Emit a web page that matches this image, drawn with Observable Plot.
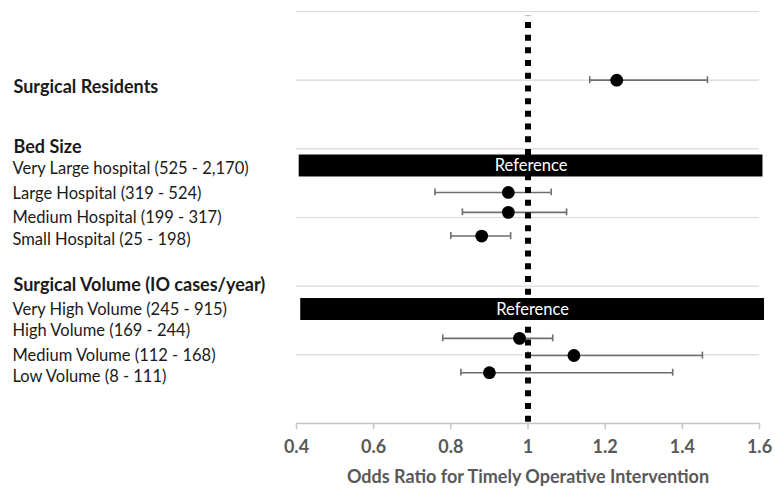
<!DOCTYPE html>
<html>
<head>
<meta charset="utf-8">
<script src="https://cdn.jsdelivr.net/npm/d3@7"></script>
<script src="https://cdn.jsdelivr.net/npm/@observablehq/plot@0.6"></script>
<style>
  html, body { margin: 0; padding: 0; background: #fff; }
  #chart { width: 775px; height: 493px; }
  svg { font-family: Lato, "Open Sans", sans-serif; }
</style>
</head>
<body>
<div id="chart"></div>
<script>
// Estimates (odds ratio, 95% CI)
const estNames = ["Surgical Residents", "Large Hospital (319 - 524)", "Medium Hospital (199 - 317)", "Small Hospital (25 - 198)",
                  "High Volume (169 - 244)", "Medium Volume (112 - 168)", "Low Volume (8 - 111)"];
const estRow   = [5.0, 3.365, 3.075, 2.73, 1.24, 0.99, 0.74];
const estOR    = [1.23, 0.949, 0.949, 0.880, 0.978, 1.119, 0.900];
const estLow   = [1.160, 0.759, 0.830, 0.800, 0.779, 1.000, 0.826];
const estHigh  = [1.465, 1.060, 1.100, 0.955, 1.064, 1.452, 1.375];

// Reference categories (drawn as black bars)
const refRow  = [3.75, 1.66];
const refFrom = [0.407, 0.411];
const refTo   = [1.609, 1.613];

// Left-hand labels
const labelText = ["Surgical Residents", "Bed Size", "Very Large hospital (525 - 2,170)", "Large Hospital (319 - 524)",
                   "Medium Hospital (199 - 317)", "Small Hospital (25 - 198)", "Surgical Volume (IO cases/year)",
                   "Very High Volume (245 - 915)", "High Volume (169 - 244)", "Medium Volume (112 - 168)", "Low Volume (8 - 111)"];
const labelRow  = [4.9, 4.03, 3.71, 3.35, 3.0, 2.68, 2.01, 1.66, 1.345, 0.99, 0.68];
const labelBold = [true, true, false, false, false, false, true, false, false, false, false];

const xTicks = [0.4, 0.6, 0.8, 1.0, 1.2, 1.4, 1.6];
const gridRows = [1, 2, 3, 4, 5, 6];
const nullOR = 1;
const xTitle = "Odds Ratio for Timely Operative Intervention";

const est = estNames.map((n, i) => ({name: n, y: estRow[i], or: estOR[i], lo: estLow[i], hi: estHigh[i]}));
const refs = refRow.map((y, i) => ({y, x1: refFrom[i], x2: refTo[i]}));
const labels = labelText.map((t, i) => ({t, y: labelRow[i], bold: labelBold[i]}));

const capH = 0.05, barH = 0.16;

const chart = Plot.plot({
  width: 775,
  height: 493,
  marginLeft: 296,
  marginRight: 16,
  marginTop: 11,
  marginBottom: 70,
  x: {domain: [0.4, 1.6]},
  y: {domain: [0, 6], axis: null},
  style: {fontFamily: "Lato, 'Open Sans', sans-serif", background: "#fff"},
  marks: [
    Plot.ruleY(gridRows, {stroke: "#d9d9d9", strokeWidth: 1.2}),
    Plot.ruleY([0], {stroke: "#c4c4c4", strokeWidth: 1.5}),
    Plot.axisX({
      ticks: xTicks, tickSize: 6, stroke: "#c4c4c4", strokeWidth: 1.5,
      tickPadding: 11, fontSize: 18, fontWeight: "bold", fill: "#595959",
      tickFormat: d => String(+d.toFixed(1)),
      label: null
    }),
    Plot.text([xTitle], {frameAnchor: "bottom", text: d => d, dy: 59, dx: 0, fontSize: 18, fontWeight: "bold", fill: "#595959"}),
    Plot.ruleY(est, {y: "y", x1: "lo", x2: "hi", stroke: "#6e6e6e", strokeWidth: 1.6}),
    Plot.ruleX(est, {x: "lo", y1: d => d.y - capH, y2: d => d.y + capH, stroke: "#6e6e6e", strokeWidth: 1.6}),
    Plot.ruleX(est, {x: "hi", y1: d => d.y - capH, y2: d => d.y + capH, stroke: "#6e6e6e", strokeWidth: 1.6}),
    Plot.rect(refs, {x1: "x1", x2: "x2", y1: d => d.y - barH, y2: d => d.y + barH, fill: "#000"}),
    Plot.ruleX([nullOR], {y1: 0.02, y2: 5.94, stroke: "#000", strokeWidth: 6, strokeDasharray: "6,6.7"}),
    Plot.text(refs, {x: d => (d.x1 + d.x2) / 2, y: "y", text: () => "Reference", fill: "#fff", fontSize: 16.5}),
    Plot.dot(est, {x: "or", y: "y", r: 6.4, fill: "#000"}),
    Plot.text(labels.filter(d => d.bold), {y: "y", text: "t", frameAnchor: "left", dx: -283, textAnchor: "start",
      fontSize: 18, fontWeight: "bold", fill: "#1a1a1a"}),
    Plot.text(labels.filter(d => !d.bold), {y: "y", text: "t", frameAnchor: "left", dx: -284, textAnchor: "start",
      fontSize: 16.5, fill: "#1a1a1a"})
  ]
});
document.getElementById("chart").appendChild(chart);
</script>
</body>
</html>
